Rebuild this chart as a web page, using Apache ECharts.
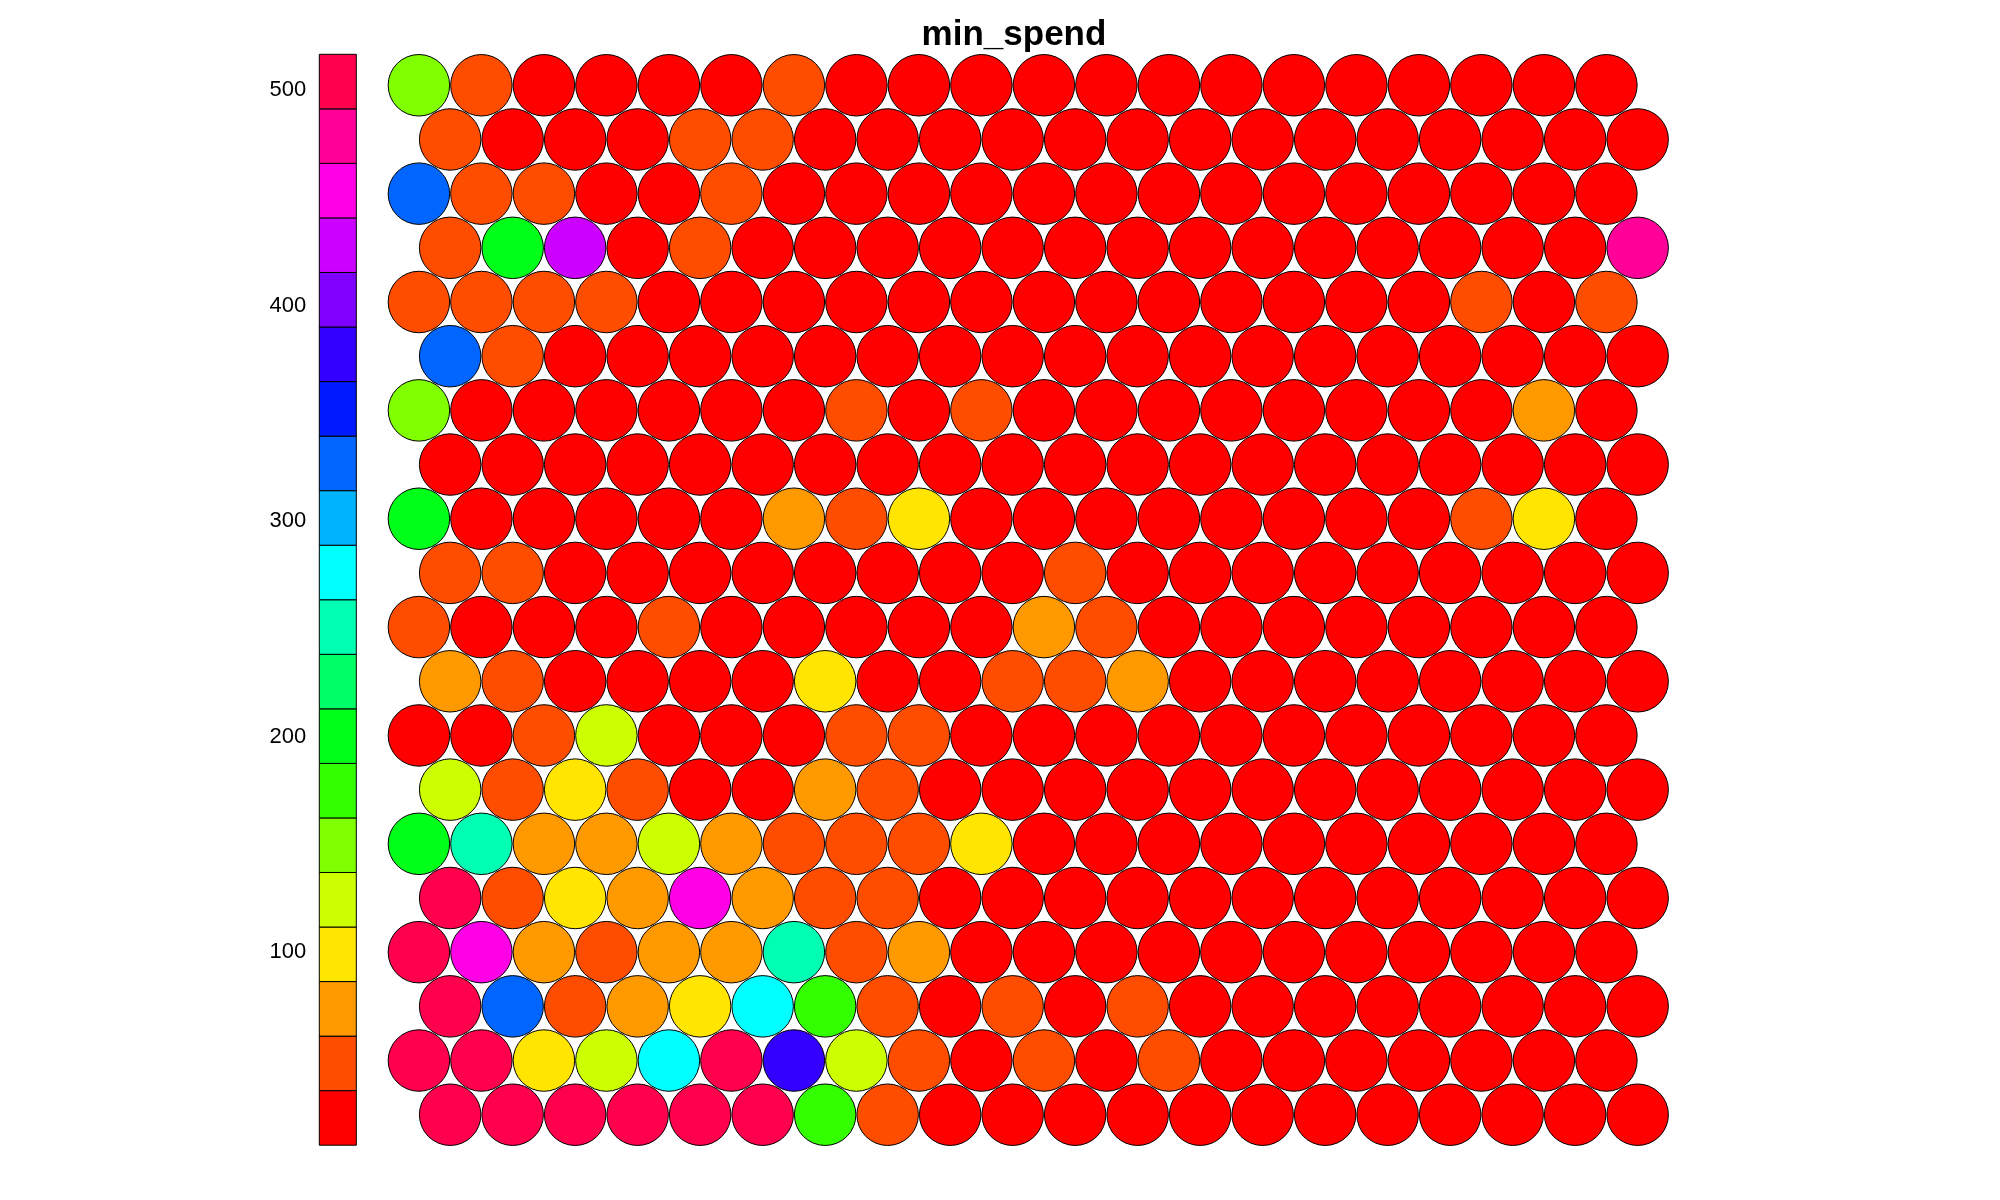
<!DOCTYPE html>
<html><head><meta charset="utf-8">
<script src="https://cdn.jsdelivr.net/npm/echarts@6/dist/echarts.min.js"></script>
<style>html,body{margin:0;padding:0;background:#fff}#chart{width:2000px;height:1200px}</style>
</head><body><div id="chart"></div>
<script>
const chartTitle = 'min_spend';
const palette = ['#FF0000','#FF4D00','#FF9900','#FFE500','#CCFF00','#80FF00','#33FF00','#00FF19','#00FF66','#00FFB2',
                 '#00FFFF','#00B3FF','#0066FF','#001AFF','#3300FF','#7F00FF','#CC00FF','#FF00E6','#FF0099','#FF004D'];
const legendTicks = [100, 200, 300, 400, 500];
// SOM unit values, rows listed from top of the map to bottom, 20 units per row
const row01 = [150,48,22,22,22,22,48,22,22,22,22,22,22,22,22,22,22,22,22,22];
const row02 = [48,22,22,22,48,48,22,22,22,22,22,22,22,22,22,22,22,22,22,22];
const row03 = [327,48,48,22,22,48,22,22,22,22,22,22,22,22,22,22,22,22,22,22];
const row04 = [48,200,428,22,48,22,22,22,22,22,22,22,22,22,22,22,22,22,22,478];
const row05 = [48,48,48,48,22,22,22,22,22,22,22,22,22,22,22,22,22,48,22,48];
const row06 = [327,48,22,22,22,22,22,22,22,22,22,22,22,22,22,22,22,22,22,22];
const row07 = [150,22,22,22,22,22,22,48,22,48,22,22,22,22,22,22,22,22,74,22];
const row08 = [22,22,22,22,22,22,22,22,22,10.4,22,22,22,22,22,22,22,22,22,22];
const row09 = [200,22,22,22,22,22,74,48,99,22,22,22,22,22,22,22,22,48,99,22];
const row10 = [48,48,22,22,22,22,22,22,22,22,48,22,22,22,22,22,22,22,22,22];
const row11 = [48,22,22,22,48,22,22,22,22,22,74,48,22,22,22,22,22,22,22,22];
const row12 = [74,48,22,22,22,22,99,22,22,48,48,74,22,22,22,22,22,22,22,22];
const row13 = [22,22,48,124,22,22,22,48,48,22,22,22,22,22,22,22,22,22,22,22];
const row14 = [124,48,99,48,22,22,74,48,22,22,22,22,22,22,22,22,22,22,22,22];
const row15 = [200,251,74,74,124,74,48,48,48,99,22,22,22,22,22,22,22,22,22,22];
const row16 = [503,48,99,74,453,74,48,48,22,22,22,22,22,22,22,22,22,22,22,22];
const row17 = [503,453,74,48,74,74,251,48,74,22,22,22,22,22,22,22,22,22,22,22];
const row18 = [503,327,48,74,99,276,175,48,22,48,22,48,22,22,22,22,22,22,22,22];
const row19 = [503,503,99,124,276,503,377,124,48,22,48,22,48,22,22,22,22,22,22,22];
const row20 = [516.6,503,503,503,503,503,175,48,22,22,22,22,22,22,22,22,22,22,22,22];

const unitRows = [row01,row02,row03,row04,row05,row06,row07,row08,row09,row10,
                  row11,row12,row13,row14,row15,row16,row17,row18,row19,row20];
const nRows = unitRows.length;
const all = unitRows.flat();
const vMin = Math.min(...all), vMax = Math.max(...all);
const nBins = palette.length;
const step = (vMax - vMin) / nBins;

const points = [];
unitRows.forEach((row, t) => {
  const r = nRows - t; // row index counted from bottom
  row.forEach((v, c) => {
    points.push([c + 1 + (r % 2 === 1 ? 0.5 : 0), r, v]);
  });
});
const bins = palette.map((col, i) => [vMin + i * step, vMin + (i + 1) * step, i]);
const pieces = bins.map(([lo, hi, i]) => i === nBins - 1
  ? { gte: lo - 1e-9, lte: hi + 1e-9, color: palette[i] }
  : { gte: lo - (i === 0 ? 1e-9 : 0), lt: hi, color: palette[i] });

const chart = echarts.init(document.getElementById('chart'), null, { renderer: 'canvas' });
chart.setOption({
  animation: false,
  backgroundColor: '#ffffff',
  title: {
    text: chartTitle, left: 1009, top: 13, textAlign: 'center',
    textStyle: { fontFamily: 'Liberation Sans', fontWeight: 'bold', fontSize: 35, color: '#000' }
  },
  grid: [
    { left: 356.4, top: 31.1, width: 1312.5, height: 1137.8 },
    { left: 319.3, top: 54.3, width: 37, height: 1090.9 }
  ],
  xAxis: [
    { gridIndex: 0, type: 'value', min: 0, max: 21, show: false },
    { gridIndex: 1, type: 'value', min: 0, max: 1, show: false }
  ],
  yAxis: [
    { gridIndex: 0, type: 'value', min: 0, max: 21, show: false },
    {
      gridIndex: 1, type: 'value', min: vMin, max: vMax,
      axisLine: { show: false }, axisTick: { show: false }, splitLine: { show: false },
      axisLabel: { customValues: legendTicks, fontSize: 22, fontFamily: 'Liberation Sans', color: '#000', margin: 13 }
    }
  ],
  visualMap: { type: 'piecewise', show: false, seriesIndex: 0, dimension: 2, pieces: pieces },
  series: [
    {
      type: 'scatter', xAxisIndex: 0, yAxisIndex: 0, data: points,
      symbol: 'circle', symbolSize: 61.5,
      itemStyle: { borderColor: '#000', borderWidth: 1, opacity: 1 },
      emphasis: { disabled: true }
    },
    {
      type: 'custom', xAxisIndex: 1, yAxisIndex: 1, data: bins,
      renderItem: function (params, api) {
        const p0 = api.coord([0, api.value(0)]);
        const p1 = api.coord([1, api.value(1)]);
        return {
          type: 'rect',
          shape: { x: p0[0], y: p1[1], width: p1[0] - p0[0], height: p0[1] - p1[1] },
          style: { fill: palette[api.value(2)], stroke: '#000', lineWidth: 1 }
        };
      }
    }
  ]
});
</script></body></html>
